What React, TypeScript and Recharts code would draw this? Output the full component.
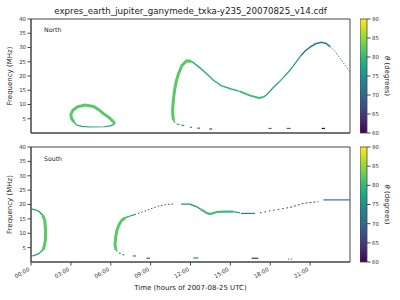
import { Bar, BarChart, Line, LineChart, ReferenceArea, XAxis, YAxis } from "recharts";

const FONT = "DejaVu Sans, sans-serif";

const hourTicks = [0, 3, 6, 9, 12, 15, 18, 21];
const freqTicks = [5, 10, 15, 20, 25, 30, 35, 40];
const thetaTicks = [60, 65, 70, 75, 80, 85, 90];
const thetaRange = [{ k: "theta", v: [60, 90] }];

// North hemisphere emission (t: hours UTC, f: MHz)
const nLoopUpper = [
  { t: 3.25, f: 3.8 }, { t: 3.05, f: 5.0 }, { t: 3.0, f: 6.5 }, { t: 3.15, f: 8.0 },
  { t: 3.5, f: 9.2 }, { t: 4.05, f: 9.8 }, { t: 4.7, f: 9.3 }, { t: 5.1, f: 8.2 },
  { t: 5.45, f: 6.8 }, { t: 5.9, f: 5.3 }, { t: 6.2, f: 4.0 }, { t: 6.3, f: 3.2 },
];
const nLoopLower = [
  { t: 6.3, f: 3.2 }, { t: 6.0, f: 2.5 }, { t: 5.5, f: 2.2 }, { t: 4.5, f: 2.1 },
  { t: 3.8, f: 2.3 }, { t: 3.4, f: 2.9 }, { t: 3.25, f: 3.8 },
];
const nRise = [
  { t: 10.72, f: 4.5 }, { t: 10.66, f: 6.5 }, { t: 10.66, f: 9 }, { t: 10.72, f: 12 },
  { t: 10.8, f: 15 }, { t: 10.92, f: 18 }, { t: 11.08, f: 20.5 }, { t: 11.34, f: 23.6 },
  { t: 11.7, f: 25.3 }, { t: 12.05, f: 25.2 },
];
const nRiseTail = [
  { t: 10.72, f: 4.5 }, { t: 10.85, f: 3.4 }, { t: 11.1, f: 3.0 }, { t: 11.6, f: 2.5 },
];
const nDescent = [
  { t: 12.05, f: 25.2 }, { t: 12.6, f: 23.3 }, { t: 13.2, f: 20.9 }, { t: 13.7, f: 18.6 },
  { t: 14.3, f: 16.6 }, { t: 15.0, f: 15.5 }, { t: 15.7, f: 14.6 },
];
const nMinimum = [
  { t: 15.7, f: 14.6 }, { t: 16.5, f: 13.1 }, { t: 17.15, f: 12.3 }, { t: 17.5, f: 12.6 },
];
const nSecondRise = [
  { t: 17.5, f: 12.6 }, { t: 17.7, f: 13.3 }, { t: 18.2, f: 15.8 }, { t: 18.6, f: 17.6 },
  { t: 19.0, f: 19.5 }, { t: 19.5, f: 22.1 }, { t: 19.9, f: 24.6 }, { t: 20.25, f: 26.8 },
];
const nPeak = [
  { t: 20.25, f: 26.8 }, { t: 20.6, f: 28.7 }, { t: 21.0, f: 30.1 }, { t: 21.4, f: 31.3 },
  { t: 21.87, f: 31.8 }, { t: 22.2, f: 31.4 }, { t: 22.5, f: 30.3 },
];
const nFall = [
  { t: 22.5, f: 30.3 }, { t: 22.9, f: 28.5 }, { t: 23.25, f: 26.2 }, { t: 23.6, f: 24.0 },
  { t: 24.0, f: 21.5 },
];
const nBits1 = [{ t: 11.96, f: 2.0 }, { t: 12.12, f: 2.0 }];
const nBits2 = [{ t: 12.5, f: 1.7 }, { t: 12.72, f: 1.7 }];
const nBits3 = [{ t: 13.42, f: 1.4 }, { t: 13.62, f: 1.4 }];
const nBits4 = [{ t: 17.86, f: 1.6 }, { t: 18.1, f: 1.6 }];
const nBits5 = [{ t: 19.24, f: 1.6 }, { t: 19.54, f: 1.6 }];
const nBits6 = [{ t: 21.87, f: 1.6 }, { t: 22.12, f: 1.6 }];

// South hemisphere emission
const sTop = [
  { t: 0, f: 18.4 }, { t: 0.3, f: 18.2 }, { t: 0.6, f: 17.6 }, { t: 0.88, f: 16.3 },
];
const sWall = [
  { t: 0.88, f: 16.3 }, { t: 1.03, f: 14.5 }, { t: 1.1, f: 11 }, { t: 1.08, f: 7.5 },
  { t: 1.0, f: 5.5 }, { t: 0.9, f: 4.2 },
];
const sFoot = [
  { t: 0.9, f: 4.2 }, { t: 0.55, f: 2.8 }, { t: 0.2, f: 2.2 }, { t: 0, f: 2.1 },
];
const sRise = [
  { t: 6.4, f: 4.2 }, { t: 6.32, f: 6.0 }, { t: 6.37, f: 8.5 }, { t: 6.47, f: 11.1 },
  { t: 6.62, f: 13.0 }, { t: 6.85, f: 14.6 }, { t: 7.1, f: 15.4 },
];
const sRiseTail = [
  { t: 6.4, f: 4.2 }, { t: 6.55, f: 3.4 }, { t: 6.75, f: 2.9 }, { t: 7.1, f: 2.3 },
];
const sArc = [{ t: 7.1, f: 15.4 }, { t: 7.45, f: 16.0 }, { t: 7.8, f: 16.5 }];
const sArcFaint = [
  { t: 7.8, f: 16.5 }, { t: 8.2, f: 17.1 }, { t: 8.95, f: 18.4 }, { t: 9.7, f: 19.6 },
  { t: 10.2, f: 20.0 }, { t: 10.8, f: 20.2 },
];
const sCrest = [
  { t: 11.3, f: 20.1 }, { t: 11.96, f: 20.1 }, { t: 12.47, f: 19.2 }, { t: 12.75, f: 18.4 },
];
const sDip = [
  { t: 12.75, f: 18.4 }, { t: 13.2, f: 17.1 }, { t: 13.47, f: 16.7 }, { t: 13.97, f: 17.4 },
  { t: 14.5, f: 17.5 }, { t: 15.2, f: 17.5 },
];
const sFlat = [{ t: 15.2, f: 17.5 }, { t: 15.72, f: 17.1 }];
const sFlat2 = [{ t: 15.8, f: 16.9 }, { t: 16.85, f: 16.9 }];
const sFaint1 = [
  { t: 17.23, f: 17.1 }, { t: 18.36, f: 18.1 }, { t: 19.49, f: 19.0 },
];
const sFaint2 = [
  { t: 19.49, f: 19.0 }, { t: 20.49, f: 20.4 }, { t: 21.62, f: 21.0 },
];
const sEnd = [{ t: 22.0, f: 21.6 }, { t: 24.0, f: 21.6 }];
const sBits1 = [{ t: 7.65, f: 2.1 }, { t: 7.9, f: 2.1 }];
const sBits2 = [{ t: 8.7, f: 1.3 }, { t: 8.95, f: 1.3 }];
const sBits3 = [{ t: 12.21, f: 1.4 }, { t: 12.59, f: 1.4 }];
const sBits4 = [{ t: 16.6, f: 1.3 }, { t: 17.1, f: 1.3 }];
const sBits5 = [{ t: 19.35, f: 1.0 }, { t: 19.7, f: 1.0 }];

const GREEN = "#5ac864";
const GREEN2 = "#3dbc74";
const TEALGREEN = "#2ab07f";
const TEAL = "#20a386";
const TEAL2 = "#21918c";
const BLUETEAL = "#2a788e";
const BLUE = "#3e4a89";
const PURPLE = "#472d7b";
const DARK = "#440154";

type Seg = { data: { t: number; f: number }[]; color: string; w: number; dash?: string };

const northSegs: Seg[] = [
  { data: nLoopLower, color: TEAL, w: 1.2 },
  { data: nLoopUpper, color: GREEN, w: 3 },
  { data: nRiseTail, color: TEAL, w: 1.2, dash: "3 2" },
  { data: nRise, color: GREEN, w: 3 },
  { data: nDescent, color: TEALGREEN, w: 1.5 },
  { data: nMinimum, color: GREEN2, w: 2 },
  { data: nSecondRise, color: TEAL, w: 1.3 },
  { data: nPeak, color: BLUETEAL, w: 1.5 },
  { data: nFall, color: TEAL2, w: 1, dash: "1.5 1.5" },
  { data: nBits1, color: TEAL2, w: 1.2 },
  { data: nBits2, color: BLUETEAL, w: 1.2 },
  { data: nBits3, color: PURPLE, w: 1.2 },
  { data: nBits4, color: BLUETEAL, w: 1.2 },
  { data: nBits5, color: BLUETEAL, w: 1.2 },
  { data: nBits6, color: DARK, w: 1.2 },
];

const southSegs: Seg[] = [
  { data: sTop, color: TEALGREEN, w: 1.5 },
  { data: sFoot, color: TEAL, w: 1.3 },
  { data: sWall, color: GREEN, w: 3 },
  { data: sRiseTail, color: TEAL, w: 1.2, dash: "2 2" },
  { data: sRise, color: GREEN, w: 3 },
  { data: sArc, color: TEAL, w: 1.3 },
  { data: sArcFaint, color: BLUE, w: 1, dash: "1.5 2" },
  { data: sCrest, color: TEAL2, w: 1.3 },
  { data: sDip, color: GREEN2, w: 2.2 },
  { data: sFlat, color: TEAL, w: 1.3 },
  { data: sFlat2, color: BLUETEAL, w: 1.2 },
  { data: sFaint1, color: PURPLE, w: 1, dash: "1.5 3" },
  { data: sFaint2, color: BLUE, w: 1, dash: "2 2" },
  { data: sEnd, color: BLUETEAL, w: 1.2 },
  { data: sBits1, color: TEAL2, w: 1.2 },
  { data: sBits2, color: BLUE, w: 1.2 },
  { data: sBits3, color: TEAL2, w: 1.2 },
  { data: sBits4, color: PURPLE, w: 1.2 },
  { data: sBits5, color: PURPLE, w: 1, dash: "1 2" },
];

const viridis = ["#440154", "#482878", "#3e4989", "#31688e", "#26828e", "#1f9e89", "#35b779", "#6ece58", "#b5de2b", "#fde725"];

const fmtHour = (v: number) => `${String(v).padStart(2, "0")}:00`;

function RotTick(props: any) {
  const { x, y, payload } = props;
  const ax = x - 1;
  const ay = y + 3;
  return (
    <text x={ax} y={ay} transform={`rotate(-30, ${ax}, ${ay})`} textAnchor="end" fontSize={5.6} fill="#333" fontFamily={FONT}>
      {fmtHour(payload.value)}
    </text>
  );
}

function Panel({ segs, height, top, bottomAxis }: { segs: Seg[]; height: number; top: number; bottomAxis: number }) {
  return (
    <LineChart width={400} height={height} margin={{ top, right: 50, bottom: 0, left: 0 }}>
      <XAxis
        type="number"
        dataKey="t"
        domain={[0, 24]}
        ticks={hourTicks}
        allowDataOverflow
        height={bottomAxis}
        tickSize={3.5}
        tickMargin={2}
        stroke="#444"
        tick={bottomAxis > 10 ? <RotTick /> : false}
      />
      <YAxis
        type="number"
        dataKey="f"
        domain={[0, 40]}
        ticks={freqTicks}
        allowDataOverflow
        width={31}
        tickSize={3.5}
        tickMargin={1.5}
        stroke="#444"
        tick={{ fontSize: 5.4, fill: "#333", fontFamily: FONT }}
      />
      <ReferenceArea x1={0} x2={24} y1={0} y2={40} fill="none" stroke="#444" strokeWidth={1} />
      {segs.map((s, i) => (
        <Line
          key={i}
          data={s.data}
          dataKey="f"
          type="linear"
          stroke={s.color}
          strokeWidth={s.w}
          strokeDasharray={s.dash}
          dot={false}
          isAnimationActive={false}
        />
      ))}
    </LineChart>
  );
}

function ColorBar({ id, height, top, bottom }: { id: string; height: number; top: number; bottom: number }) {
  return (
    <BarChart width={47} height={height} data={thetaRange} margin={{ top, right: 0, bottom, left: 0 }} barCategoryGap={0}>
      <defs>
        <linearGradient id={id} x1="0" y1="1" x2="0" y2="0">
          {viridis.map((c, i) => (
            <stop key={c} offset={`${(i / (viridis.length - 1)) * 100}%`} stopColor={c} />
          ))}
        </linearGradient>
      </defs>
      <XAxis dataKey="k" hide />
      <YAxis
        orientation="right"
        type="number"
        domain={[60, 90]}
        ticks={thetaTicks}
        width={40}
        axisLine={false}
        tickSize={3.5}
        tickMargin={1.5}
        stroke="#444"
        tick={{ fontSize: 5.4, fill: "#333", fontFamily: FONT }}
      />
      <Bar dataKey="v" fill={`url(#${id})`} stroke="#444" strokeWidth={0.8} isAnimationActive={false} />
    </BarChart>
  );
}

export default function App() {
  const txt = { fontFamily: FONT, fill: "#222" };
  return (
    <div style={{ position: "absolute", left: 0, top: 0, width: 400, height: 300, background: "#fff" }}>
      <div style={{ position: "absolute", left: 0, top: 0 }}>
        <Panel segs={northSegs} height={140} top={19} bottomAxis={7} />
      </div>
      <div style={{ position: "absolute", left: 0, top: 140 }}>
        <Panel segs={southSegs} height={160} top={7} bottomAxis={38} />
      </div>
      <div style={{ position: "absolute", left: 360, top: 0 }}>
        <ColorBar id="viridisN" height={140} top={19} bottom={7} />
      </div>
      <div style={{ position: "absolute", left: 360, top: 140 }}>
        <ColorBar id="viridisS" height={160} top={7} bottom={38} />
      </div>
      <svg width={400} height={300} style={{ position: "absolute", left: 0, top: 0, pointerEvents: "none" }}>
        <text x={190.5} y={13.5} textAnchor="middle" fontSize={8.7} {...txt}>
          expres_earth_jupiter_ganymede_txka-y235_20070825_v14.cdf
        </text>
        <text x={44} y={31.5} fontSize={6.2} {...txt}>North</text>
        <text x={44} y={160.5} fontSize={6.2} {...txt}>South</text>
        <text x={11.5} y={76} textAnchor="middle" fontSize={7} transform="rotate(-90, 11.5, 76)" {...txt}>
          Frequency (MHz)
        </text>
        <text x={11.5} y={204.5} textAnchor="middle" fontSize={7} transform="rotate(-90, 11.5, 204.5)" {...txt}>
          Frequency (MHz)
        </text>
        <text x={384.5} y={76} textAnchor="middle" fontSize={7} transform="rotate(90, 384.5, 76)" {...txt}>
          <tspan fontStyle="italic">θ</tspan> (degrees)
        </text>
        <text x={384.5} y={204.5} textAnchor="middle" fontSize={7} transform="rotate(90, 384.5, 204.5)" {...txt}>
          <tspan fontStyle="italic">θ</tspan> (degrees)
        </text>
        <text x={190.5} y={290} textAnchor="middle" fontSize={7} {...txt}>
          Time (hours of 2007-08-25 UTC)
        </text>
      </svg>
    </div>
  );
}
